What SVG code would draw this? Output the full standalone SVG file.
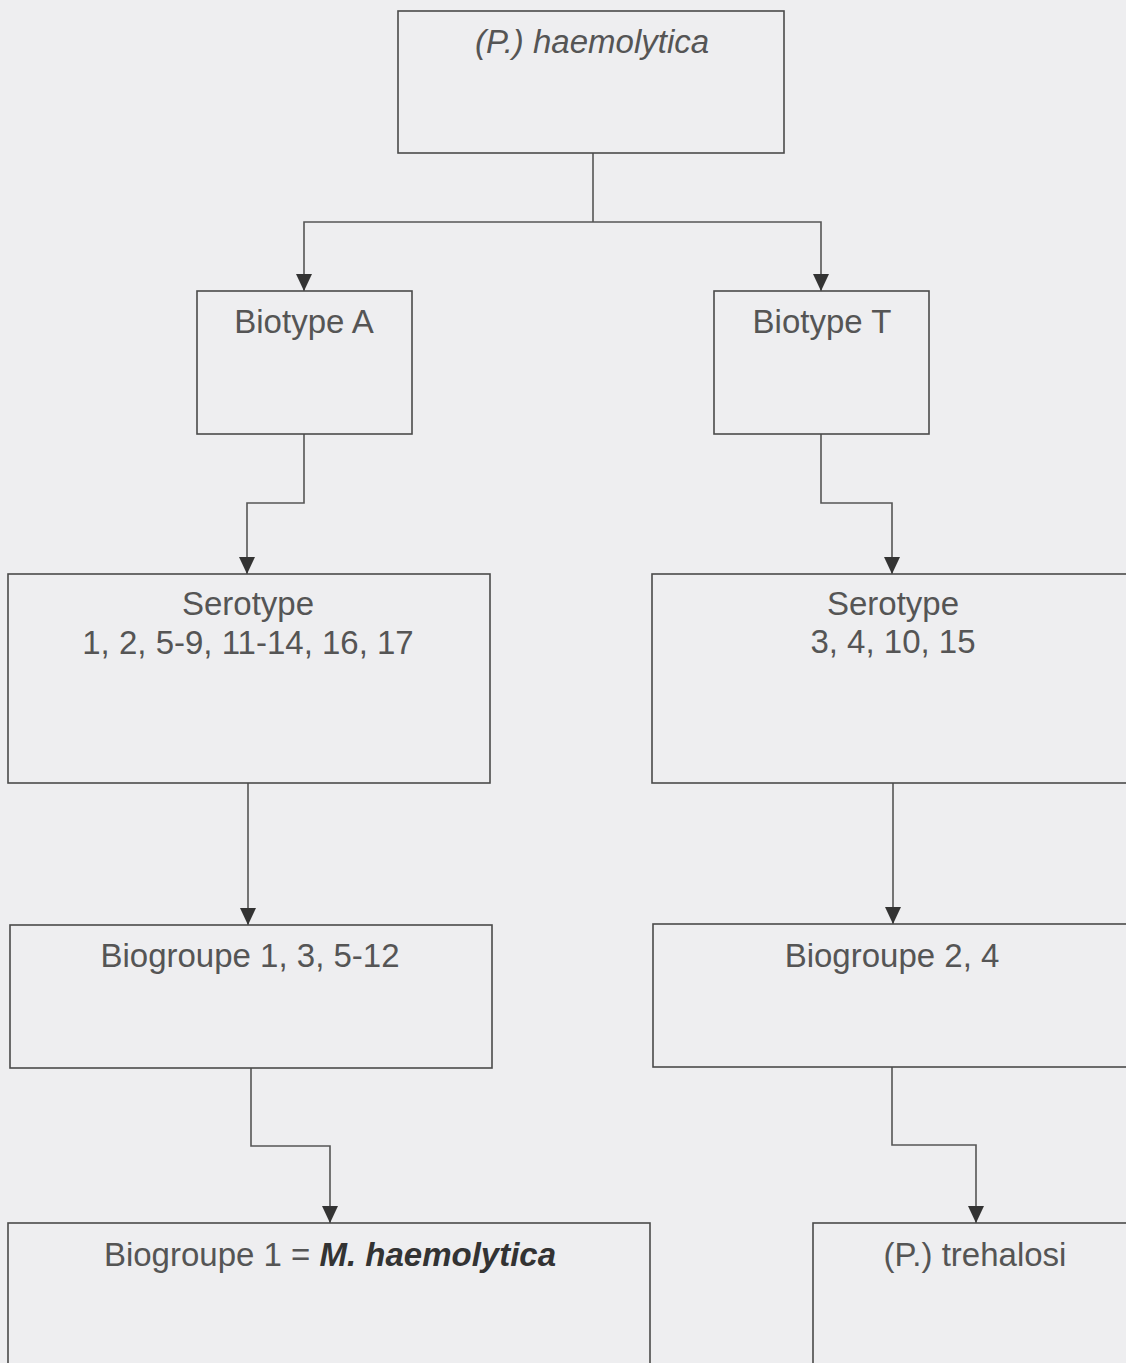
<svg xmlns="http://www.w3.org/2000/svg" width="1126" height="1363" viewBox="0 0 1126 1363">
<defs>
<marker id="arr" viewBox="0 0 17 16" refX="17" refY="8" markerWidth="17" markerHeight="16" markerUnits="userSpaceOnUse" orient="auto">
<path d="M0,0 L17,8 L0,16 z" fill="#333"/>
</marker>
<style>
.box{fill:none;stroke:#4a4a4a;stroke-width:1.6}
.lbl{font-family:"Liberation Sans",Arial,sans-serif;font-size:33px;fill:#555;text-anchor:middle}
.con{fill:none;stroke:#555;stroke-width:1.6}
</style>
</defs>
<rect x="0" y="0" width="1126" height="1363" fill="#eeeef0"/>
<g id="connectors">
<path class="con" d="M593 153 V222"/>
<path class="con" d="M593 222 H304 V291" marker-end="url(#arr)"/>
<path class="con" d="M593 222 H821 V291" marker-end="url(#arr)"/>
<path class="con" d="M304 434 V503 H247 V574" marker-end="url(#arr)"/>
<path class="con" d="M821 434 V503 H892 V574" marker-end="url(#arr)"/>
<path class="con" d="M248 783 V925" marker-end="url(#arr)"/>
<path class="con" d="M893 783 V924" marker-end="url(#arr)"/>
<path class="con" d="M251 1068 V1146 H330 V1223" marker-end="url(#arr)"/>
<path class="con" d="M892 1067 V1145 H976 V1223" marker-end="url(#arr)"/>
</g>
<g id="root">
<rect class="box" x="398" y="11" width="386" height="142"/>
<text class="lbl" x="592" y="53" font-style="italic" font-size="32">(P.) haemolytica</text>
</g>
<g id="biotypeA">
<rect class="box" x="197" y="291" width="215" height="143"/>
<text class="lbl" x="304" y="333">Biotype A</text>
</g>
<g id="biotypeT">
<rect class="box" x="714" y="291" width="215" height="143"/>
<text class="lbl" x="822" y="333">Biotype T</text>
</g>
<g id="serotypeA">
<rect class="box" x="8" y="574" width="482" height="209"/>
<text class="lbl" x="248" y="615">Serotype</text>
<text class="lbl" x="248" y="654">1, 2, 5-9, 11-14, 16, 17</text>
</g>
<g id="serotypeT">
<rect class="box" x="652" y="574" width="500" height="209"/>
<text class="lbl" x="893" y="615">Serotype</text>
<text class="lbl" x="893" y="653">3, 4, 10, 15</text>
</g>
<g id="biogroupeA">
<rect class="box" x="10" y="925" width="482" height="143"/>
<text class="lbl" x="250" y="967">Biogroupe 1, 3, 5-12</text>
</g>
<g id="biogroupeT">
<rect class="box" x="653" y="924" width="500" height="143"/>
<text class="lbl" x="892" y="967">Biogroupe 2, 4</text>
</g>
<g id="mhaemolytica">
<rect class="box" x="8" y="1223" width="642" height="200"/>
<text class="lbl" x="330" y="1266">Biogroupe 1 = <tspan font-weight="bold" font-style="italic" fill="#333">M. haemolytica</tspan></text>
</g>
<g id="trehalosi">
<rect class="box" x="813" y="1223" width="400" height="200"/>
<text class="lbl" x="975" y="1266">(P.) trehalosi</text>
</g>
</svg>
